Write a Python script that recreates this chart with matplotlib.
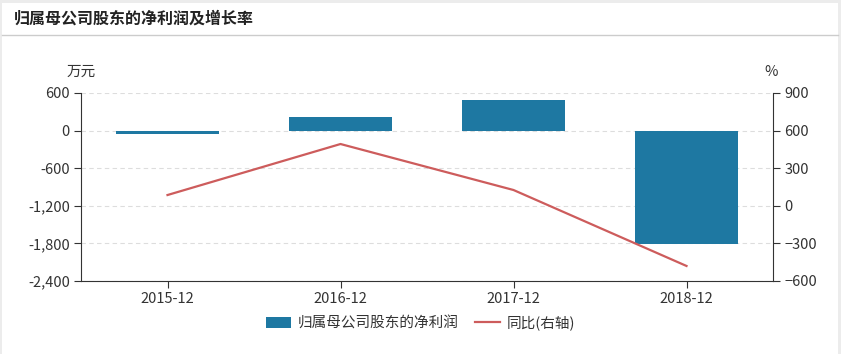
import matplotlib.pyplot as plt
from matplotlib.patches import Rectangle
import numpy as np

plt.rcParams['font.family'] = ['Noto Sans CJK SC', 'DejaVu Sans']

# data
periods = ['2015-12', '2016-12', '2017-12', '2018-12']
net_profit = [-50, 220, 490, -1810]      # 万元
yoy_growth = [86, 493, 126, -480]         # %

left_ticks = [600, 0, -600, -1200, -1800, -2400]
right_ticks = [900, 600, 300, 0, -300, -600]

bar_color = '#1e78a2'
line_color = '#cd5c5c'
text_color = '#333333'

fig = plt.figure(figsize=(8.41, 3.54), dpi=100)
fig.patch.set_facecolor('#ececec')

# white card and title strip
fig.add_artist(Rectangle((2 / 841, 0), 836 / 841, 351 / 354, transform=fig.transFigure,
                         facecolor='white', edgecolor='none', zorder=-5))
fig.add_artist(plt.Line2D([2 / 841, 838 / 841], [1 - 35 / 354] * 2, color='#cccccc', lw=1, zorder=-4))
fig.text(14 / 841, 1 - 19 / 354, '归属母公司股东的净利润及增长率', fontsize=11.5, fontweight='bold',
         color='#222222', va='center', ha='left')

ax = fig.add_axes([81 / 841, 1 - 281 / 354, 692 / 841, 188 / 354])
ax.set_facecolor('none')
x = np.arange(len(periods))
ax.bar(x, net_profit, width=0.6, color=bar_color, label='归属母公司股东的净利润', zorder=2)
ax.set_xlim(-0.5, len(periods) - 0.5)
ax.set_ylim(-2400, 600)
ax.set_yticks(left_ticks)
ax.set_yticklabels([f'{v:,}' for v in left_ticks])
ax.set_xticks(x)
ax.set_xticklabels(periods)
ax.grid(axis='y', linestyle=(0, (4, 3)), color='#dddddd', lw=0.8, zorder=0)
ax.tick_params(colors=text_color, labelsize=10.5, length=5, width=0.8, pad=3)
for s in ['top', 'right']:
    ax.spines[s].set_visible(False)
for s in ['left', 'bottom']:
    ax.spines[s].set_color('#333333')
ax.text(0.0, 1.075, '万元', transform=ax.transAxes, ha='center', va='bottom',
        fontsize=10.5, color=text_color)

ax2 = ax.twinx()
ax2.plot(x, yoy_growth, color=line_color, lw=1.6, label='同比(右轴)', zorder=3)
ax2.set_ylim(-600, 900)
ax2.set_yticks(right_ticks)
ax2.tick_params(colors=text_color, labelsize=10.5, length=5, width=0.8, pad=3)
for s in ['top', 'left', 'bottom']:
    ax2.spines[s].set_visible(False)
ax2.spines['right'].set_color('#333333')
ax2.text(0.998, 1.075, '%', transform=ax2.transAxes, ha='center', va='bottom',
         fontsize=10.5, color=text_color)

h1, l1 = ax.get_legend_handles_labels()
h2, l2 = ax2.get_legend_handles_labels()
fig.legend(h1 + h2, l1 + l2, loc='center', bbox_to_anchor=(0.5, 1 - 323 / 354), ncol=2,
           frameon=False, fontsize=10.5, labelcolor=text_color, handlelength=1.7,
           handleheight=0.85, columnspacing=1.1, handletextpad=0.5)

fig.savefig('out.png', dpi=100, facecolor=fig.get_facecolor())
